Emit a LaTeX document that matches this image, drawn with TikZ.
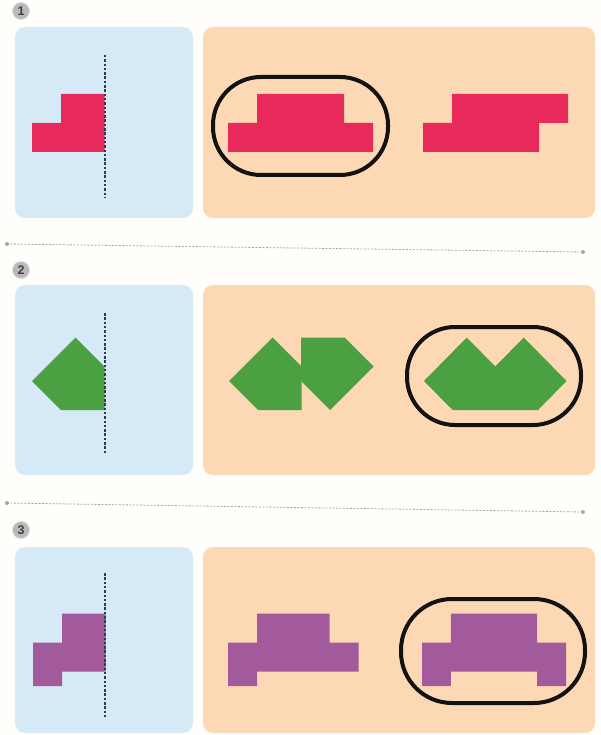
\documentclass[tikz,border=0pt]{standalone}
\usepackage{fontspec}
\setsansfont{Liberation Sans}
\usetikzlibrary{positioning}
\definecolor{PanelBlue}{RGB}{213,233,247}
\definecolor{PanelOrange}{RGB}{252,217,180}
\definecolor{PieceRed}{RGB}{231,42,91}
\definecolor{PieceGreen}{RGB}{75,160,66}
\definecolor{PiecePurple}{RGB}{162,90,156}
\definecolor{AxisInk}{RGB}{47,59,76}
\definecolor{PaperWhite}{RGB}{255,254,251}

\begin{document}
\begin{tikzpicture}[
    x=1pt, y=-1pt,
    bluepanel/.style={fill=PanelBlue, rounded corners=10pt},
    orangepanel/.style={fill=PanelOrange, rounded corners=10pt},
    axis/.style={draw=AxisInk, line width=1.2pt, dash pattern=on 2.5pt off 1.8pt},
    ring/.style={draw=black!93, line width=4pt, rounded corners=48pt},
    badge/.style={circle, fill=gray!55, draw=gray!25, line width=0.8pt, inner sep=0pt, minimum size=17pt, text=black!75, font=\sffamily\bfseries\fontsize{12.5}{12.5}\selectfont},
    sepline/.style={draw=gray!70, line width=0.8pt, dash pattern=on 2pt off 1.5pt},
    sepdot/.style={fill=gray!70},
    cell/.style 2 args={shift={(#1pt,-#2pt)}, x=29pt, y=29pt}
]
\fill[PaperWhite] (0,0) rectangle (601,735);
\useasboundingbox (0,0) rectangle (601,735);

% row badges
\node[badge] (badge1) at (21,11) {1};
\node[badge] (badge2) at (21,270) {2};
\node[badge] (badge3) at (21,530) {3};

% panels
\fill[bluepanel] (15,27) rectangle (193,218);
\fill[orangepanel] (203,27) rectangle (595,218);
\fill[bluepanel] (15,285) rectangle (193,475);
\fill[orangepanel] (203,285) rectangle (595,475);
\fill[bluepanel] (15,547) rectangle (193,733);
\fill[orangepanel] (203,547) rectangle (595,733);

% row 1
\fill[PieceRed, cell={32}{152}] (0,0) -- (2.5,0) -- (2.5,2) -- (1,2) -- (1,1) -- (0,1) -- cycle;
\fill[PieceRed, cell={228}{152}] (0,0) -- (5,0) -- (5,1) -- (4,1) -- (4,2) -- (1,2) -- (1,1) -- (0,1) -- cycle;
\fill[PieceRed, cell={423}{152}] (0,0) -- (4,0) -- (4,1) -- (5,1) -- (5,2) -- (1,2) -- (1,1) -- (0,1) -- cycle;
\draw[ring] (213,77) rectangle (388,175);

% row 2
\fill[PieceGreen, cell={32}{410}] (0,1) -- (1,0) -- (2.5,0) -- (2.5,1.5) -- (1.5,2.5) -- cycle;
\fill[PieceGreen, cell={229}{410}] (0,1) -- (1,0) -- (2.5,0) -- (2.5,1.5) -- (1.5,2.5) -- cycle;
\fill[PieceGreen, cell={301}{410}] (0,1) -- (0,2.5) -- (1.5,2.5) -- (2.5,1.5) -- (1,0) -- cycle;
\fill[PieceGreen, cell={424}{410}, x=28.5pt] (0,1) -- (1,0) -- (4,0) -- (5,1) -- (3.5,2.5) -- (2.5,1.5) -- (1.5,2.5) -- cycle;
\draw[ring] (407,327) rectangle (581,425);

% row 3
\fill[PiecePurple, cell={33}{686}] (0,0) -- (1,0) -- (1,0.5) -- (2.5,0.5) -- (2.5,2.5) -- (1,2.5) -- (1,1.5) -- (0,1.5) -- cycle;
\fill[PiecePurple, cell={228}{686}] (0,0) -- (1,0) -- (1,0.5) -- (4.5,0.5) -- (4.5,1.5) -- (3.5,1.5) -- (3.5,2.5) -- (1,2.5) -- (1,1.5) -- (0,1.5) -- cycle;
\fill[PiecePurple, cell={422}{686}, x=28.8pt] (0,0) -- (1,0) -- (1,0.5) -- (4,0.5) -- (4,0) -- (5,0) -- (5,1.5) -- (4,1.5) -- (4,2.5) -- (1,2.5) -- (1,1.5) -- (0,1.5) -- cycle;
\draw[ring, rounded corners=51pt] (401,599) rectangle (585,703);

% mirror axes
\coordinate (axisTop1) at (105,55);
\coordinate (axisBot1) at (105,197);
\coordinate (axisTop2) at (105,313);
\coordinate (axisBot2) at (105,454);
\coordinate (axisTop3) at (105,573);
\coordinate (axisBot3) at (105,717);
\foreach \r in {1,2,3}
    \draw[axis] (axisTop\r) -- (axisBot\r);

% separators
\coordinate (sepL1) at (7,244);
\coordinate (sepR1) at (583,252);
\coordinate (sepL2) at (7,503);
\coordinate (sepR2) at (583,512);
\foreach \s in {1,2} {
    \draw[sepline] (sepL\s) -- (sepR\s);
    \fill[sepdot] (sepL\s) circle (2pt);
    \fill[sepdot] (sepR\s) circle (2pt);
}
\end{tikzpicture}
\end{document}
